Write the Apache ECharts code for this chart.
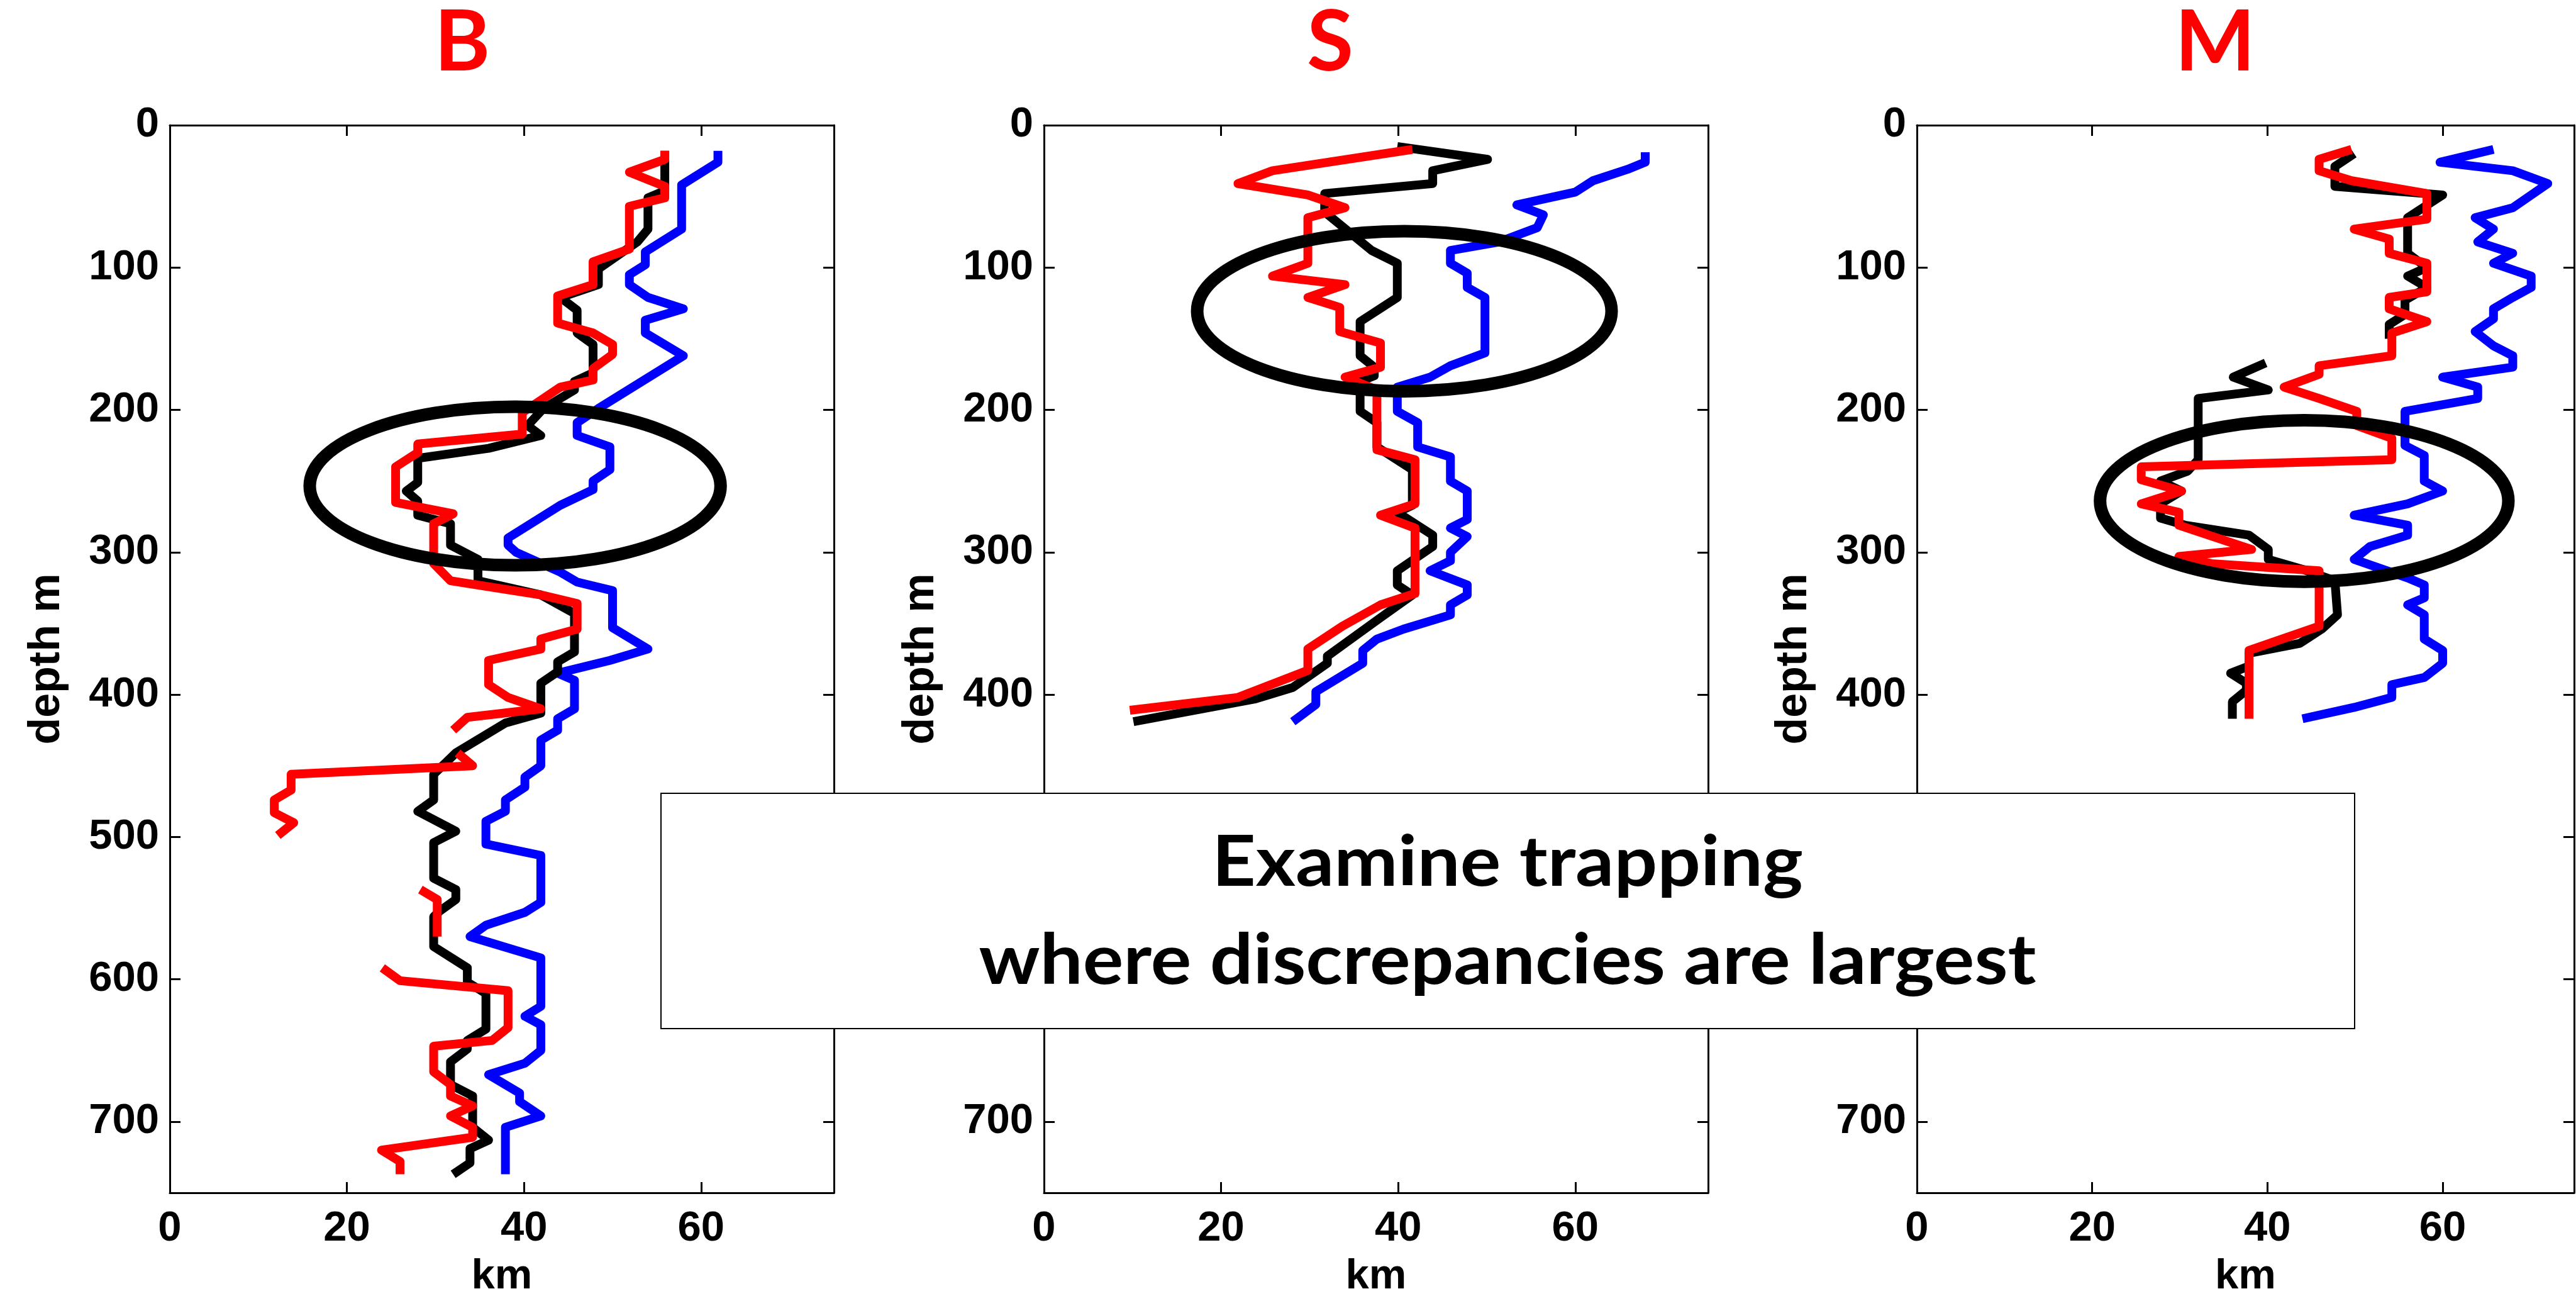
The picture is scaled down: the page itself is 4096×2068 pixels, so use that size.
<!DOCTYPE html>
<html>
<head>
<meta charset="utf-8">
<script src="https://cdn.jsdelivr.net/npm/echarts@6/dist/echarts.min.js"></script>
<style>
  html, body { margin: 0; padding: 0; background: #fff; }
  #chart { width: 4096px; height: 2068px; }
</style>
</head>
<body>
<div id="chart"></div>
<script>
// [km, depth m] pairs; null = gap in the trace
const bBlue = [[61.9,18],[61.9,26],[57.8,42],[57.8,73],[53.7,89],[53.7,98],[51.9,105],[51.9,112],[54,121],[58,129],[53.7,137],[53.7,146],[58,162],[48.4,199],[46,209],[46,218],[49.7,226],[49.7,242],[47.8,250],[47.8,256],[44.1,267],[38.2,290],[38.2,295],[39.1,300],[44.1,314],[46,321],[50,327],[50,353],[54,368],[49.7,376],[43.8,385],[45.7,390],[45.7,410],[43.8,417],[43.8,425],[41.9,432],[41.9,450],[40.1,458],[40.1,465],[37.9,474],[37.9,482],[35.7,489],[35.7,505],[41.9,513],[41.9,546],[40.1,553],[35.7,562],[33.9,570],[41.9,585],[41.9,619],[40.1,626],[41.9,632],[41.9,650],[40.1,659],[36,667],[39.5,680],[39.5,686],[41.9,696],[37.9,704],[37.9,737]];
const bBlack = [[55.9,18],[55.9,46],[54,51],[54,73],[52.8,82],[48.4,101],[48.4,112],[44.1,121],[46,130],[46,146],[47.8,154],[47.8,174],[45.7,180],[45.7,186],[42.2,199],[40.4,211],[41.9,218],[36,227],[28,234],[28,251],[26.7,257],[28,264],[28,274],[31.7,280],[31.7,295],[34.8,305],[34.8,320],[41.9,330],[45.7,343],[45.7,370],[43.8,377],[43.8,384],[41.9,392],[41.9,413],[37.9,420],[32.3,441],[29.8,456],[29.8,474],[28,482],[32.3,496],[29.8,504],[29.8,529],[32.3,537],[32.3,544],[30.5,552],[29.8,556],[29.8,577],[33.6,592],[33.6,602],[35.7,610],[35.7,635],[33.6,643],[33.6,649],[31.7,658],[31.7,674],[34.2,682],[34.2,704],[36,713],[33.9,719],[33.9,729],[32,737]];
const bRed = [[55.9,18],[55.9,24],[51.9,33],[55.9,43],[55.9,51],[51.9,57],[51.9,87],[47.8,96],[47.8,112],[43.8,120],[43.8,139],[47.8,146],[50,154],[50,161],[47.8,171],[47.8,179],[44.1,184],[39.8,202],[39.8,217],[28,224],[28,230],[25.5,240],[25.5,265],[32,273],[29.8,280],[29.8,308],[31.7,320],[41.9,330],[46,336],[46,354],[41.9,361],[41.9,368],[36,376],[36,393],[38.2,402],[41.9,410],[33.6,416],[32,425],null,[32.5,441],[34.2,450],[13.7,456],[13.7,467],[11.8,474],[11.8,483],[14,490],[12.2,499],null,[28.3,537],[30.2,544],[30.2,570],null,[24,592],[26,601],[38.2,608],[38.2,634],[36.4,643],[29.8,647],[29.8,665],[31.7,674],[31.7,682],[34.2,689],[31.7,696],[34.2,704],[34.2,711],[23.9,720],[26,728],[26,737]];

const sBlue = [[67.9,19],[67.9,26],[65.9,31],[62,39],[60,47],[53.4,56],[56.4,63],[55.7,72],[51.4,82],[45.9,88],[45.9,97],[47.8,104],[47.8,114],[49.8,121],[49.8,160],[45.9,169],[43.6,177],[39.9,184],[39.9,201],[42.2,209],[42.2,226],[45.9,233],[45.9,250],[47.8,257],[47.8,277],[45.9,283],[47.8,289],[45.9,300],[45.9,306],[43.6,313],[47.8,323],[47.8,330],[45.9,337],[45.9,344],[40.6,354],[37.6,361],[36,369],[36,378],[30.7,398],[30.7,407],[28.1,419]];
const sBlack = [[39.9,15],[50.1,24],[43.9,32],[43.9,41],[31.7,48],[31.7,61],[37,88],[39.9,97],[39.9,121],[35.7,138],[35.7,162],[37.3,170],[37.3,176],[35.7,180],[35.7,201],[37.6,209],[37.6,226],[41.6,242],[41.6,267],[39.9,272],[43.9,288],[43.9,296],[39.9,313],[39.9,323],[41.6,330],[38,346],[34,364],[32,373],[32,378],[28.1,395],[23.9,403],[10.1,419]];
const sRed = [[41.6,17],[25.8,32],[21.9,41],[29.8,49],[34,58],[29.8,65],[29.8,97],[25.8,106],[34,112],[29.8,121],[33.4,128],[33.4,145],[38,153],[38,170],[34,177],[37.6,186],[37.6,228],[41.9,235],[41.9,266],[38,274],[41.9,283],[41.9,329],[38,337],[33.7,352],[29.8,368],[29.8,383],[21.9,402],[9.7,411]];

const mBlue = [[65.8,17],[59.7,26],[68,32],[72,41],[68,58],[63.7,65],[65.8,73],[64,82],[68,90],[65.8,97],[70.1,106],[70.1,114],[68,121],[65.8,129],[65.8,136],[63.7,145],[65.8,155],[68,162],[68,170],[60,177],[64,184],[64,192],[55.7,201],[55.7,225],[57.9,232],[57.9,250],[60,257],[56,266],[49.9,274],[56,281],[56,288],[51.7,296],[49.9,305],[56,318],[57.9,323],[57.9,332],[56,337],[57.9,344],[57.9,361],[60,369],[60,378],[57.9,388],[54.2,393],[54.2,402],[49.9,409],[44,417]];
const mBlack = [[49.9,20],[47.7,29],[47.7,43],[60,49],[56,65],[56,90],[58.2,100],[56,106],[58.2,114],[55.7,123],[55.7,133],[53.9,140],[53.9,150],null,[39.8,167],[36.1,177],[40.1,186],[32.1,192],[32.1,235],[30.9,243],[27.8,250],[30.2,257],[27.8,266],[27.8,276],[30.6,281],[37.9,288],[40.1,298],[40.1,305],[44,312],[47.7,320],[48,344],[46.2,354],[43.7,364],[37.9,371],[37.9,380],[35.8,385],[37.6,392],[37.6,397],[36,405],[36,417]];
const mRed = [[49.6,17],[45.9,24],[45.9,32],[49.6,39],[58.2,48],[58.2,66],[49.9,73],[53.9,80],[53.9,90],[58.2,97],[58.2,117],[53.9,121],[53.9,129],[58.2,138],[54.2,146],[54.2,162],[45.9,169],[45.9,175],[41.9,184],[45.9,192],[50.2,201],[50.2,211],[54.2,220],[54.2,235],[25.6,240],[25.6,249],[30.2,257],[25.6,266],[29.9,272],[29.9,281],[38.2,298],[29.9,303],[33.6,308],[45.9,313],[45.9,352],[37.9,369],[37.9,417]];

// ellipse annotations: [centre km, centre depth, radius km, radius depth]
const bRing = [39.0, 253.5, 23.2, 55.7];
const sRing = [40.7, 130.7, 23.4, 56.2];
const mRing = [44.2, 264.0, 23.3, 56.7];

const panelTitles = ["B", "S", "M"];
const xTicks = [0, 20, 40, 60];
const yTicks = [0, 100, 200, 300, 400, 500, 600, 700];
const boxLines = ["Examine trapping", "where discrepancies are largest"];

const panels = [
  { title: panelTitles[0], left: 270, titleX: 735, traces: [bBlue, bBlack, bRed], ring: bRing },
  { title: panelTitles[1], left: 1660, titleX: 2115, traces: [sBlue, sBlack, sRed], ring: sRing },
  { title: panelTitles[2], left: 3048, titleX: 3522, traces: [mBlue, mBlack, mRed], ring: mRing },
];
const traceColors = ["#0000ff", "#000000", "#ff0000"];

const labelFont = () => ({ fontSize: 67, fontWeight: "bold", fontFamily: "Liberation Sans", color: "#000" });
// onZero off so each axis stays on its own side of the box
const frame = () => ({ show: true, onZero: false, lineStyle: { color: "#000", width: 3 } });
const ticks = () => ({ show: true, inside: true, length: 17, lineStyle: { color: "#000", width: 3 } });

const grid = [], xAxis = [], yAxis = [], series = [], graphic = [];

panels.forEach((p, i) => {
  grid.push({ left: p.left, top: 199, width: 1056, height: 1705 });
  xAxis.push({
    gridIndex: i, type: "value", position: "bottom", min: 0, max: 75, interval: 20,
    axisLine: frame(), axisTick: ticks(), splitLine: { show: false },
    axisLabel: { ...labelFont(), margin: 24, formatter: (v) => (xTicks.includes(v) ? String(v) : "") },
    name: "km", nameLocation: "middle", nameGap: 100, nameTextStyle: labelFont(),
  });
  xAxis.push({
    gridIndex: i, type: "value", position: "top", min: 0, max: 75, interval: 20,
    axisLine: frame(), axisTick: ticks(), splitLine: { show: false }, axisLabel: { show: false },
  });
  yAxis.push({
    gridIndex: i, type: "value", position: "left", inverse: true, min: 0, max: 750, interval: 100,
    axisLine: frame(), axisTick: ticks(), splitLine: { show: false },
    axisLabel: { ...labelFont(), margin: 17, formatter: (v) => (yTicks.includes(v) ? String(v) : "") },
    name: "depth m", nameLocation: "middle", nameRotate: 90, nameGap: 160,
    nameTextStyle: { ...labelFont(), fontSize: 70 },
  });
  yAxis.push({
    gridIndex: i, type: "value", position: "right", inverse: true, min: 0, max: 750, interval: 100,
    axisLine: frame(), axisTick: ticks(), splitLine: { show: false }, axisLabel: { show: false },
  });

  p.traces.forEach((tr, k) => {
    series.push({
      type: "line",
      xAxisIndex: 2 * i, yAxisIndex: 2 * i,
      data: tr.map((d) => (d ? d : ["-", "-"])),
      symbol: "none", connectNulls: false, z: 2 + k,
      lineStyle: { color: traceColors[k], width: 14, join: "round", cap: "butt" },
    });
  });

  series.push({
    type: "custom",
    xAxisIndex: 2 * i, yAxisIndex: 2 * i, z: 6,
    data: [p.ring],
    encode: { x: 0, y: 1 },
    renderItem: (params, api) => {
      const c = api.coord([api.value(0), api.value(1)]);
      const s = api.size([api.value(2), api.value(3)]);
      return {
        type: "ellipse",
        shape: { cx: c[0], cy: c[1], rx: Math.abs(s[0]), ry: Math.abs(s[1]) },
        style: { fill: "none", stroke: "#000", lineWidth: 20 },
      };
    },
  });

  graphic.push({
    type: "text", x: p.titleX, y: 68, z: 20,
    style: { text: p.title, fill: "#ff0000", fontSize: 135, fontWeight: "bold", fontFamily: "Lato", align: "center", verticalAlign: "middle" },
  });
});

graphic.push({
  type: "rect", z: 30,
  shape: { x: 1051, y: 1261, width: 2693, height: 374 },
  style: { fill: "#fff", stroke: "#000", lineWidth: 2 },
});
graphic.push({
  type: "text", x: 2397, y: 1372, z: 31, scaleY: 0.92,
  style: { text: boxLines[0], fill: "#000", fontSize: 121, fontWeight: "bold", fontFamily: "Lato", align: "center", verticalAlign: "middle" },
});
graphic.push({
  type: "text", x: 2397, y: 1528, z: 31, scaleY: 0.92,
  style: { text: boxLines[1], fill: "#000", fontSize: 121, fontWeight: "bold", fontFamily: "Lato", align: "center", verticalAlign: "middle" },
});

const chart = echarts.init(document.getElementById("chart"));
chart.setOption({ animation: false, grid, xAxis, yAxis, series, graphic });
</script>
</body>
</html>
